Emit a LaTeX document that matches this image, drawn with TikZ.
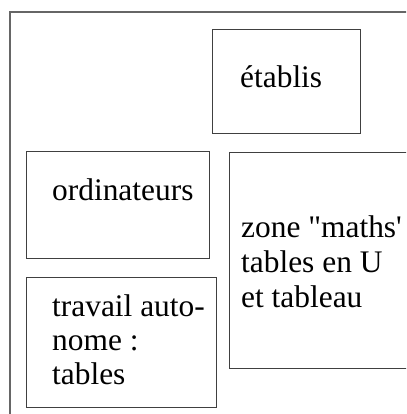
\documentclass[tikz,border=0pt]{standalone}
\usepackage{fontspec}
\setmainfont{Liberation Serif}[Ligatures=TeXOff]
\begin{document}
\begin{tikzpicture}[x=1pt,y=-1pt,
  frame/.style={draw=black!60,line width=1.6pt},
  roombox/.style={draw=black!75,line width=1.1pt,rectangle,inner sep=0pt,anchor=north west},
  lbl/.style={anchor=base west,inner sep=0pt,font=\fontsize{31.4}{34.5}\selectfont}]
\useasboundingbox (0,0) rectangle (406,414);
\clip (0,0) rectangle (406,414);
\draw[frame] (10,430) -- (10,12) -- (420,12);
\node[roombox,minimum width=148pt,minimum height=104pt] (etab) at (212,29) {};
\node[roombox,minimum width=183pt,minimum height=107pt] (ordi) at (26,151) {};
\node[roombox,minimum width=200pt,minimum height=216pt] (zone) at (229,152) {};
\node[roombox,minimum width=190pt,minimum height=130pt] (trav) at (26,277) {};
\node[lbl] (t1) at (240,88) {établis};
\node[lbl] (t2) at (52,200) {ordinateurs};
\node[lbl] (t3) at (241,237) {zone "maths'};
\node[lbl] (t4) at (241,272) {tables en U};
\node[lbl] (t5) at (241,307) {et tableau};
\node[lbl] (t6) at (52,316) {travail auto-};
\node[lbl] (t7) at (52,350) {nome :};
\node[lbl] (t8) at (52,384) {tables};
\end{tikzpicture}
\end{document}
